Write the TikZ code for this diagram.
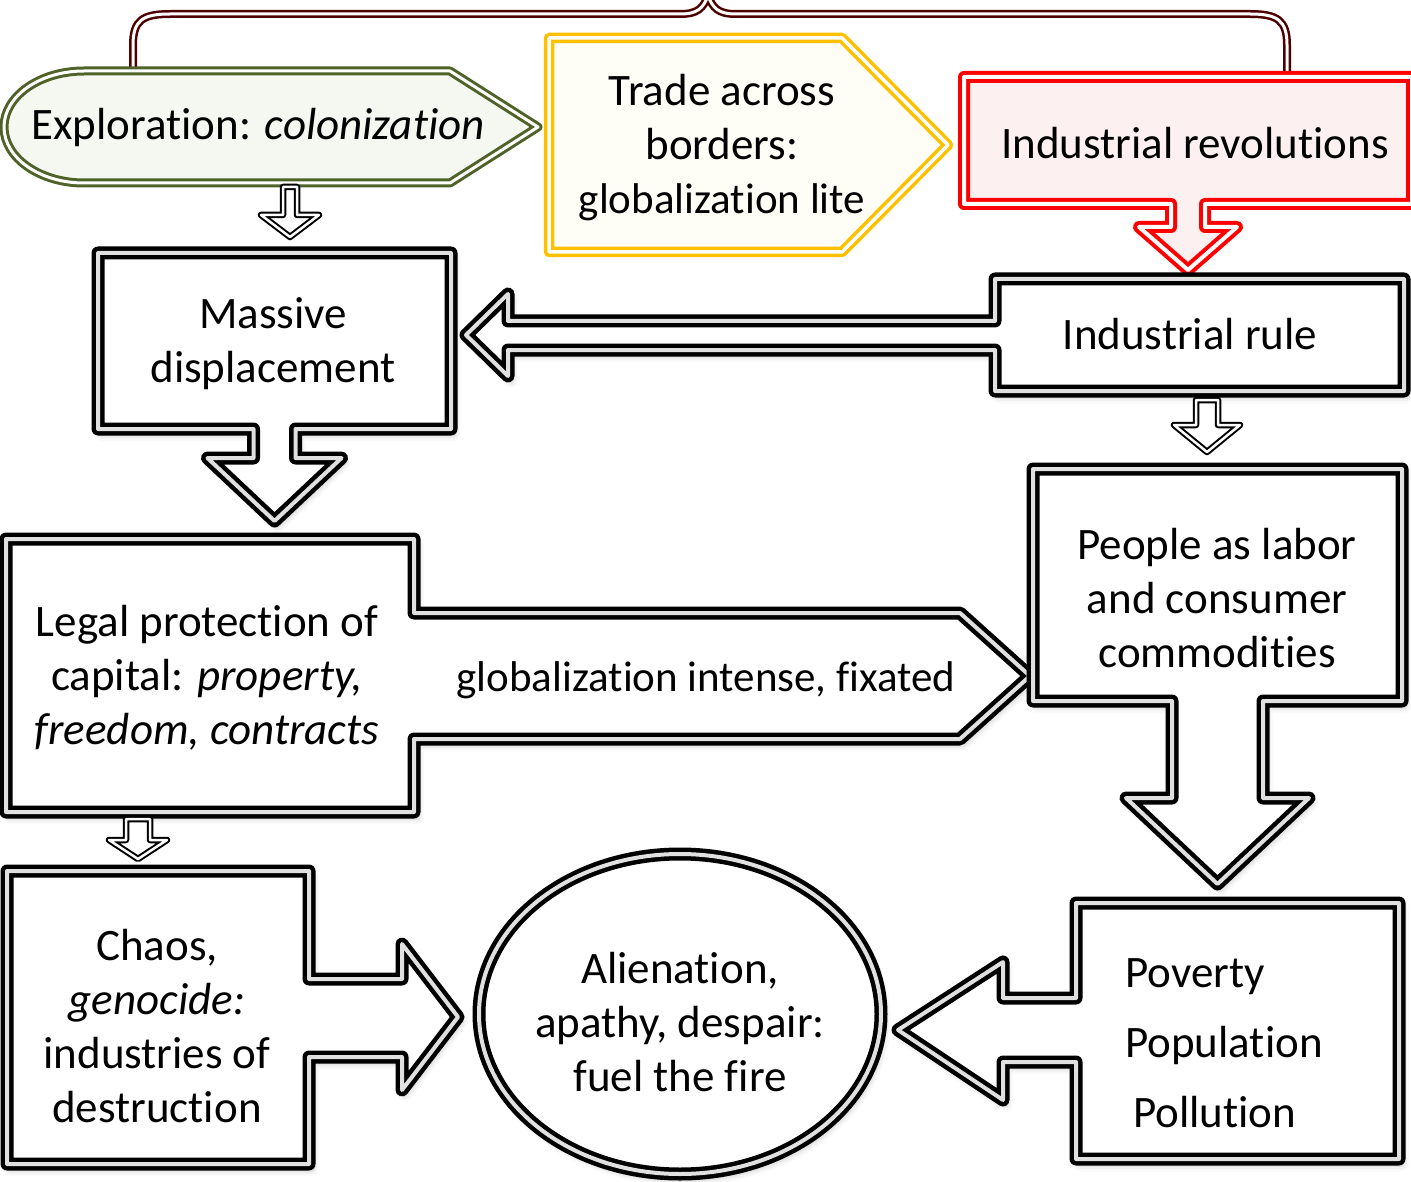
\documentclass[tikz,border=0pt]{standalone}
\usepackage{fontspec}
\setmainfont{Carlito}[Ligatures=NoCommon]
\usepackage{tikz}
\usetikzlibrary{calc,shapes.geometric,shadows.blur}

\definecolor{bracecol}{RGB}{77,0,0}
\definecolor{explline}{RGB}{79,98,40}
\definecolor{explfill}{RGB}{245,248,240}
\definecolor{tradeline}{RGB}{255,192,0}
\definecolor{tradefill}{RGB}{255,254,246}
\definecolor{revline}{RGB}{255,0,0}
\definecolor{revfill}{RGB}{253,240,240}

\tikzset{
  box/.style={inner sep=0pt, outer sep=0pt},
  txt/.style={inner sep=0pt, align=center},
  blk/.style={draw=black, fill=white, line width=4.5pt, double=black!12, double distance=4pt, line join=round,
    blur shadow={shadow xshift=3pt, shadow yshift=-5pt, shadow blur radius=7pt, shadow opacity=30}},
  thinblk/.style={draw=black, fill=white, line width=2pt, double=white, double distance=2.5pt, line join=round},
  brace/.style={draw=bracecol, line width=2.5pt, double=white, double distance=3pt},
  explshape/.style={draw=explline, fill=explfill, line width=3pt, double=white, double distance=3pt, line join=round},
  tradeshape/.style={draw=tradeline, fill=tradefill, line width=3.5pt, double=white, double distance=3.5pt, line join=round},
  revshape/.style={draw=revline, fill=revfill, line width=4pt, double=white, double distance=4pt, line join=round}
}

\begin{document}
\begin{tikzpicture}[x=1pt, y=-1pt, font=\fontsize{45}{54}\selectfont]
\useasboundingbox (0,0) rectangle (1411,1182);

% boxes
\node[box, minimum width=366, minimum height=112] (expl) at (267,127) {};
\node[box, minimum width=293, minimum height=214] (trade) at (695.5,145) {};
\node[box, minimum width=448, minimum height=127] (irev) at (1188,140.5) {};
\node[box, minimum width=353, minimum height=176] (dis) at (274.5,341) {};
\node[box, minimum width=409, minimum height=112] (rule) at (1199.5,335) {};
\node[box, minimum width=408, minimum height=273] (legal) at (210,675.5) {};
\node[box, minimum width=369, minimum height=232] (ppl) at (1217.5,585) {};
\node[box, minimum width=302, minimum height=293] (chaos) at (158,1017.5) {};
\node[box, minimum width=323, minimum height=256] (pov) at (1237.5,1031) {};

% brace over the top row
\draw[brace] ($(expl.north west)+(49,0)$) -- (133,45) .. controls (133,20) and (143,14) .. (170,14)
  -- (680,14) .. controls (698,14) and (703,8) .. (708,-4) .. controls (713,8) and (718,14) .. (736,14)
  -- (1250,14) .. controls (1277,14) and (1287,20) .. (1287,45) -- ($(irev.north)+(99,-5)$);

% top row
\draw[explshape] (expl.north west) -- (expl.north east) -- ($(expl.east)+(88,0)$) -- (expl.south east)
  -- (expl.south west) arc[start angle=90, end angle=270, x radius=80, y radius=56] -- cycle;
\draw[tradeshape] (trade.north west) -- (trade.north east) -- ($(trade.east)+(106,0)$)
  -- (trade.south east) -- (trade.south west) -- cycle;
\draw[revshape] (irev.north west) -- (irev.north east) -- (irev.south east) -- ($(irev.south)+(17,0)$)
  -- ++(0,23) -- ++(32,0) -- ++(-49,43) -- ++(-49,-43) -- ++(32,0) -- ++(0,-23) -- (irev.south west) -- cycle;

% callouts
\draw[blk] (dis.north west) -- (dis.north east) -- (dis.south east) -- ($(dis.south)+(21,0)$)
  -- ++(0,29) -- ++(46,0) -- ++(-67,63) -- ++(-67,-63) -- ++(46,0) -- ++(0,-29) -- (dis.south west) -- cycle;
\draw[blk] (rule.north west) -- (rule.north east) -- (rule.south east) -- (rule.south west)
  -- ++(0,-41) -- ++(-487,0) -- ++(0,26) -- ++(-42,-41) -- ++(42,-41) -- ++(0,27) -- ++(487,0) -- cycle;
\draw[blk] (legal.north west) -- (legal.north east) -- ++(0,74) -- ++(546,0) -- ++(70,63) -- ++(-70,63)
  -- ++(-546,0) -- (legal.south east) -- (legal.south west) -- cycle;
\draw[blk] (ppl.north west) -- (ppl.north east) -- (ppl.south east) -- ($(ppl.south)+(45.5,0)$)
  -- ++(0,97) -- ++(46,0) -- ++(-91.5,86) -- ++(-91.5,-86) -- ++(46,0) -- ++(0,-97) -- (ppl.south west) -- cycle;
\draw[blk] (pov.north west) -- (pov.north east) -- (pov.south east) -- (pov.south west)
  -- ++(0,-97) -- ++(-73,0) -- ++(0,38) -- ++(-105,-70) -- ++(105,-68) -- ++(0,36) -- ++(73,0) -- cycle;
\draw[blk] (chaos.north west) -- (chaos.north east) -- ++(0,108) -- ++(93,0) -- ++(0,-35) -- ++(56,73)
  -- ++(-56,73) -- ++(0,-33) -- ++(-93,0) -- (chaos.south east) -- (chaos.south west) -- cycle;
\node[box, blk, ellipse, minimum width=402, minimum height=320] (alien) at (680,1014) {};

% small arrows
\draw[thinblk] ([xshift=16pt,yshift=-4pt]expl.south) -- ++(0,28) -- ++(-22,0)
  -- ([xshift=15.5pt,yshift=16pt]dis.north) -- ++(29,-22) -- ++(-22,0) -- ++(0,-28) -- cycle;
\draw[thinblk] ([xshift=-84pt,yshift=-7pt]legal.south) -- ++(0,21) -- ++(-17,0)
  -- ([xshift=-20pt,yshift=12pt]chaos.north) -- ++(29,-19) -- ++(-17,0) -- ++(0,-21) -- cycle;
\draw[thinblk] ([xshift=-3.5pt,yshift=-9pt]rule.south) -- ++(0,25) -- ++(-22,0)
  -- ([xshift=-10.5pt,yshift=17pt]ppl.north) -- ++(33,-27) -- ++(-22,0) -- ++(0,-25) -- cycle;

% texts
\node[txt] (texpl) at (258,128) {Exploration: \textit{colonization}};
\node[txt] (ttrade) at (722,148) {Trade across\\borders:\\\fontsize{43}{54}\selectfont globalization lite};
\node[txt] (tirev) at (1195,143) {Industrial revolutions};
\node[txt] (trule) at (1190,334) {Industrial rule};
\node[txt] (tdis) at (273,344) {Massive\\displacement};
\node[txt] (tlegal) at (207,678) {Legal protection of\\capital: \textit{property,}\\\textit{freedom, contracts}};
\node[txt, font=\fontsize{43}{52}\selectfont] (tglob) at (706,680) {globalization intense, fixated};
\node[txt] (tppl) at (1217,598) {People as labor\\and consumer\\commodities};
\node[txt] (tchaos) at (157,1026) {Chaos,\\\textit{genocide:}\\industries of\\destruction};
\node[txt] (talien) at (680,1022) {Alienation,\\apathy, despair:\\fuel the fire};
\node[txt, align=left, anchor=west] (tpov) at (1125,1043) {Poverty\\[16pt]Population\\[16pt]\hspace*{8pt}Pollution};
\end{tikzpicture}
\end{document}
